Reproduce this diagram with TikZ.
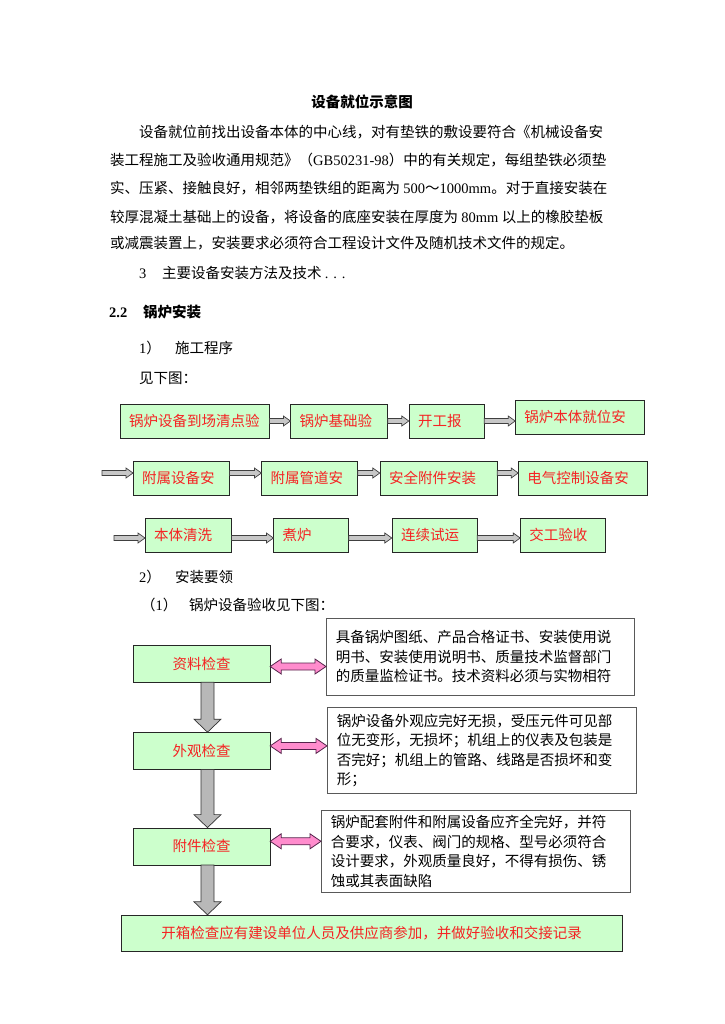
\documentclass[tikz,border=0pt]{standalone}
\usepackage{fontspec}
\setmainfont{Liberation Serif}
\newfontfamily\cjk{Noto Sans CJK SC}
\usepackage{tikz}
\usetikzlibrary{positioning,calc}
\newcommand\en[1]{{\rmfamily #1}}
\definecolor{boxgreen}{RGB}{204,255,204}
\definecolor{boxred}{RGB}{245,35,35}
\definecolor{arrowpink}{RGB}{255,140,205}
\definecolor{pinkline}{RGB}{85,35,75}

\begin{document}
\begin{tikzpicture}[
    x=1pt, y=-1pt,
    font=\cjk\fontsize{14.5}{19.5}\selectfont,
    txt/.style={anchor=west, inner sep=0pt},
    flow/.style={draw=black!85, fill=boxgreen, text=boxred, anchor=west, minimum height=34pt,
      inner xsep=9pt, text width=#1, align=left},
    check/.style={draw=black!85, fill=boxgreen, text=boxred, minimum width=137pt, minimum height=37pt},
    note/.style={draw=black!65, line width=0.9pt, fill=white, anchor=north west, inner xsep=9.5pt, align=left},
    harrow/.style={draw=black!75, fill=black!22, line width=0.7pt,
      to path={let \p1=(\tikztostart), \p2=(\tikztotarget) in
        (\x1,\y1+2.5pt) -- (\x2-7pt,\y1+2.5pt) -- (\x2-7pt,\y1+5pt) -- (\x2,\y1)
        -- (\x2-7pt,\y1-5pt) -- (\x2-7pt,\y1-2.5pt) -- (\x1,\y1-2.5pt) -- cycle}},
    varrow/.style={draw=black!80, fill=black!28, line width=0.7pt,
      to path={let \p1=(\tikztostart), \p2=(\tikztotarget) in
        (\x1-6.5pt,\y1) -- (\x1-6.5pt,\y2+13pt) -- (\x1-13.5pt,\y2+13pt) -- (\x1,\y2)
        -- (\x1+13.5pt,\y2+13pt) -- (\x1+6.5pt,\y2+13pt) -- (\x1+6.5pt,\y1) -- cycle}},
    darrow/.style={draw=pinkline, fill=arrowpink, line width=0.8pt,
      to path={let \p1=(\tikztostart), \p2=(\tikztotarget) in
        (\x1,\y1) -- (\x1+11pt,\y1+7.5pt) -- (\x1+11pt,\y1+3.5pt) -- (\x2-11pt,\y1+3.5pt)
        -- (\x2-11pt,\y1+7.5pt) -- (\x2,\y1) -- (\x2-11pt,\y1-7.5pt) -- (\x2-11pt,\y1-3.5pt)
        -- (\x1+11pt,\y1-3.5pt) -- (\x1+11pt,\y1-7.5pt) -- cycle}}
  ]
  \path[use as bounding box, fill=white] (0,0) rectangle (724,1024);

  \node (title) at (362,102) {\bfseries 设备就位示意图};
  \node[txt] (p1) at (139,132) {设备就位前找出设备本体的中心线，对有垫铁的敷设要符合《机械设备安};
  \node[txt] (p2) at (110,160) {装工程施工及验收通用规范》（\en{GB50231-98}）中的有关规定，每组垫铁必须垫};
  \node[txt] (p3) at (110,188) {实、压紧、接触良好，相邻两垫铁组的距离为 \en{500}～\en{1000mm}。对于直接安装在};
  \node[txt] (p4) at (110,217) {较厚混凝土基础上的设备，将设备的底座安装在厚度为 \en{80mm} 以上的橡胶垫板};
  \node[txt] (p5) at (110,243) {或减震装置上，安装要求必须符合工程设计文件及随机技术文件的规定。};
  \node[txt] (p6) at (139,273) {\makebox[23pt][l]{\en{3}}主要设备安装方法及技术 \en{. . .}};

  \node[txt] (sec) at (109,312) {\bfseries\makebox[34pt][l]{\en{2.2}}锅炉安装};
  \node[txt] (h1) at (139,348) {\makebox[36pt][l]{\en{1}）}施工程序};
  \node[txt] (see) at (139,378) {见下图：};

  \node[flow=131pt] (s1) at (120,421) {锅炉设备到场清点验};
  \node[flow=79pt, right=21pt of s1] (s2) {锅炉基础验};
  \node[flow=57pt, right=21pt of s2] (s3) {开工报};
  \node[flow=111pt, right=31pt of s3, yshift=4pt] (s4) {锅炉本体就位安};

  \node[flow=78pt] (s5) at (133,478) {附属设备安};
  \node[flow=78pt, right=32pt of s5] (s6) {附属管道安};
  \node[flow=99pt, right=22pt of s6] (s7) {安全附件安装};
  \node[flow=111pt, right=21pt of s7] (s8) {电气控制设备安};

  \node[flow=68pt] (s9) at (145,535) {本体清洗};
  \node[flow=57pt, right=42pt of s9] (s10) {煮炉};
  \node[flow=67pt, right=43pt of s10] (s11) {连续试运};
  \node[flow=67pt, right=43pt of s11] (s12) {交工验收};

  \coordinate (in2) at (102,473);
  \coordinate (in3) at (114,538);

  \draw[harrow] (s1.east) to (s2.west);
  \draw[harrow] (s2.east) to (s3.west);
  \draw[harrow] (s3.east) to (s4.west);
  \draw[harrow] (in2) to (s5.west);
  \draw[harrow] ([yshift=5pt]s5.east) to (s6.west);
  \draw[harrow] ([yshift=5pt]s6.east) to (s7.west);
  \draw[harrow] ([yshift=5pt]s7.east) to (s8.west);
  \draw[harrow] (in3) to (s9.west);
  \draw[harrow] ([yshift=-3pt]s9.east) to (s10.west);
  \draw[harrow] ([yshift=-3pt]s10.east) to (s11.west);
  \draw[harrow] ([yshift=-3pt]s11.east) to (s12.west);

  \node[txt] (h2) at (139,577) {\makebox[36pt][l]{\en{2}）}安装要领};
  \node[txt] (h3) at (141,605) {\makebox[48pt][l]{（\en{1}）}锅炉设备验收见下图：};

  \node[check] (c1) at (201.5,663.5) {资料检查};
  \node[check, below=50pt of c1] (c2) {外观检查};
  \node[check, below=58pt of c2] (c3) {附件检查};
  \node[check, minimum width=501pt, minimum height=36pt] (fin) at (371.5,933)
    {开箱检查应有建设单位人员及供应商参加，并做好验收和交接记录};

  \node[note, text width=289pt, minimum height=77pt] (n1) at (326,618)
    {具备锅炉图纸、产品合格证书、安装使用说\\明书、安装使用说明书、质量技术监督部门\\的质量监检证书。技术资料必须与实物相符};
  \node[note, text width=290pt, minimum height=86pt] (n2) at (327,707)
    {锅炉设备外观应完好无损，受压元件可见部\\位无变形，无损坏；机组上的仪表及包装是\\否完好；机组上的管路、线路是否损坏和变\\形；};
  \node[note, text width=290pt, minimum height=82pt] (n3) at (321,810)
    {锅炉配套附件和附属设备应齐全完好，并符\\合要求，仪表、阀门的规格、型号必须符合\\设计要求，外观质量良好，不得有损伤、锈\\蚀或其表面缺陷};

  \draw[darrow] ([yshift=-3pt]c1.east) to (n1.west);
  \draw[darrow] ([yshift=5pt]c2.east) to (n2.west);
  \draw[darrow] ([yshift=5pt]c3.east) to (n3.west);

  \draw[varrow] ([xshift=6pt]c1.south) to ([xshift=6pt]c2.north);
  \draw[varrow] ([xshift=6pt]c2.south) to ([xshift=6pt]c3.north);
  \draw[varrow] ([xshift=6pt]c3.south) to (fin.north);
\end{tikzpicture}
\end{document}
